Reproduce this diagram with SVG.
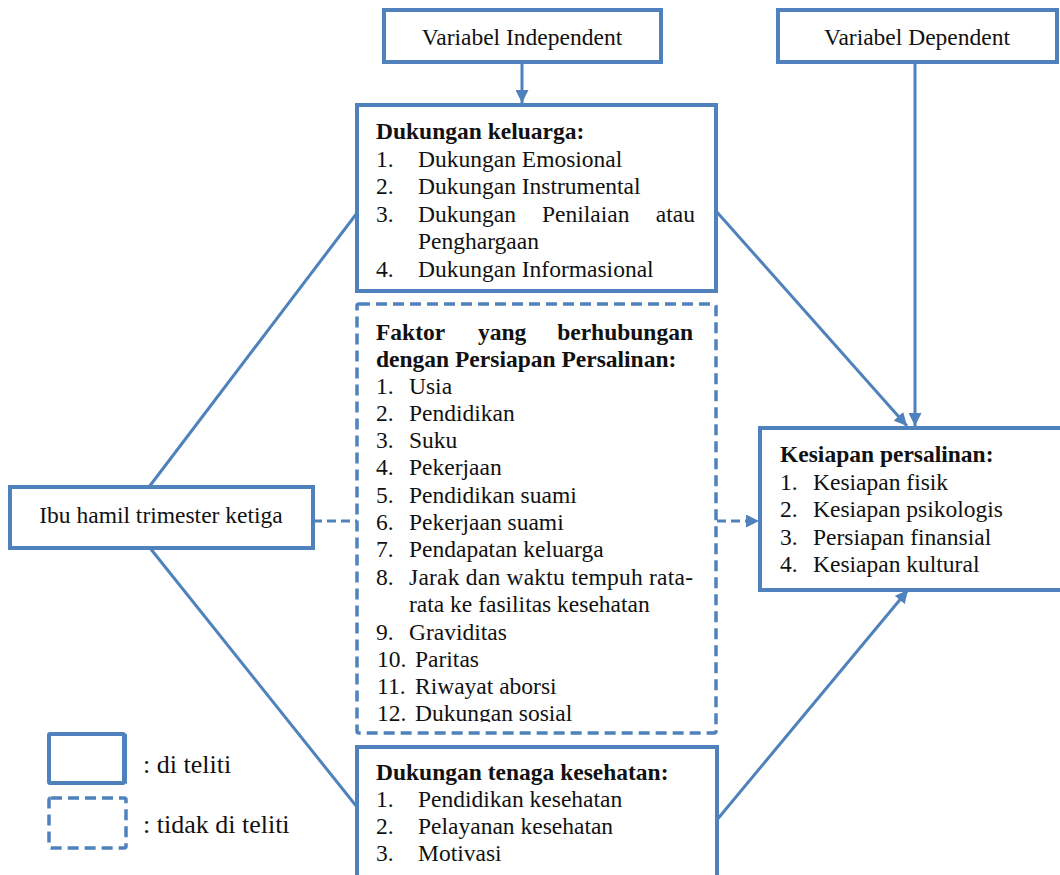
<svg xmlns="http://www.w3.org/2000/svg" width="1060" height="875" viewBox="0 0 1060 875" font-family="'Liberation Serif', 'DejaVu Serif', serif">
<style>
.box{fill:#fff;stroke:#4F81BD;stroke-width:4}
.dbox{fill:#fff;stroke:#4F81BD;stroke-width:3.5;stroke-dasharray:11 6}
.ln{fill:none;stroke:#4F81BD;stroke-width:3}
.dln{fill:none;stroke:#4F81BD;stroke-width:3;stroke-dasharray:9 5}
text{font-size:23.5px;fill:#111}
.b{font-weight:bold}
.c{text-anchor:middle}
.e{text-anchor:end}
.lg{font-size:26px}
</style>
<defs>
<marker id="arr" markerUnits="userSpaceOnUse" markerWidth="13" markerHeight="13" viewBox="0 0 10 10" refX="10" refY="5" orient="auto">
<path d="M0,0 L10,5 L0,10 z" fill="#4F81BD"/>
</marker>
<clipPath id="clipF"><rect x="357" y="306" width="358" height="416"/></clipPath>
</defs>

<g id="connectors">
<line class="ln" x1="522" y1="62" x2="522" y2="103" marker-end="url(#arr)"/>
<line class="ln" x1="915" y1="62" x2="915" y2="426" marker-end="url(#arr)"/>
<line class="ln" x1="149" y1="487" x2="357" y2="213"/>
<line class="ln" x1="150" y1="548" x2="357" y2="807"/>
<line class="ln" x1="716" y1="211" x2="907" y2="426" marker-end="url(#arr)"/>
<line class="ln" x1="716" y1="821" x2="908" y2="590" marker-end="url(#arr)"/>
<line class="dln" x1="313" y1="521" x2="357" y2="521"/>
<line class="dln" x1="717" y1="521" x2="759" y2="521" marker-end="url(#arr)"/>
</g>

<g id="var-independent">
<rect class="box" x="384" y="10" width="277" height="52"/>
<text class="c" x="522" y="45">Variabel Independent</text>
</g>

<g id="var-dependent">
<rect class="box" x="778" y="10" width="279" height="52"/>
<text class="c" x="917" y="45">Variabel Dependent</text>
</g>

<g id="dukungan-keluarga">
<rect class="box" x="357" y="105" width="359" height="186"/>
<text class="b" x="376" y="139">Dukungan keluarga:</text>
<text x="376" y="167">1.</text><text x="418" y="167">Dukungan Emosional</text>
<text x="376" y="194">2.</text><text x="418" y="194">Dukungan Instrumental</text>
<text x="376" y="222">3.</text><text x="418" y="222">Dukungan</text><text x="542" y="222">Penilaian</text><text class="e" x="695" y="222">atau</text>
<text x="418" y="249">Penghargaan</text>
<text x="376" y="277">4.</text><text x="418" y="277">Dukungan Informasional</text>
</g>

<g id="faktor">
<rect class="dbox" x="357" y="304" width="359" height="429" rx="2"/>
<g clip-path="url(#clipF)">
<text class="b" x="376" y="340">Faktor</text><text class="b" x="478" y="340">yang</text><text class="b e" x="693" y="340">berhubungan</text>
<text class="b" x="376" y="367">dengan Persiapan Persalinan:</text>
<text x="376" y="394">1.</text><text x="409" y="394">Usia</text>
<text x="376" y="421">2.</text><text x="409" y="421">Pendidikan</text>
<text x="376" y="448">3.</text><text x="409" y="448">Suku</text>
<text x="376" y="475">4.</text><text x="409" y="475">Pekerjaan</text>
<text x="376" y="503">5.</text><text x="409" y="503">Pendidikan suami</text>
<text x="376" y="530">6.</text><text x="409" y="530">Pekerjaan suami</text>
<text x="376" y="557">7.</text><text x="409" y="557">Pendapatan keluarga</text>
<text x="376" y="585">8.</text><text x="409" y="585" textLength="284" lengthAdjust="spacing">Jarak dan waktu tempuh rata-</text>
<text x="409" y="612">rata ke fasilitas kesehatan</text>
<text x="376" y="640">9.</text><text x="409" y="640">Graviditas</text>
<text x="377" y="667">10.</text><text x="415" y="667">Paritas</text>
<text x="377" y="694">11.</text><text x="415" y="694">Riwayat aborsi</text>
<text x="377" y="721">12.</text><text x="415" y="721">Dukungan sosial</text>
</g>
</g>

<g id="ibu-hamil">
<rect class="box" x="10" y="487" width="303" height="61"/>
<text class="c" x="161" y="523">Ibu hamil trimester ketiga</text>
</g>

<g id="kesiapan">
<rect class="box" x="760" y="428" width="306" height="162"/>
<text class="b" x="780" y="462">Kesiapan persalinan:</text>
<text x="780" y="490">1.</text><text x="813" y="490">Kesiapan fisik</text>
<text x="780" y="517">2.</text><text x="813" y="517">Kesiapan psikologis</text>
<text x="780" y="545">3.</text><text x="813" y="545">Persiapan finansial</text>
<text x="780" y="572">4.</text><text x="813" y="572">Kesiapan kultural</text>
</g>

<g id="tenaga-kesehatan">
<rect class="box" x="357" y="747" width="360" height="140"/>
<text class="b" x="376" y="780">Dukungan tenaga kesehatan:</text>
<text x="376" y="807">1.</text><text x="418" y="807">Pendidikan kesehatan</text>
<text x="376" y="834">2.</text><text x="418" y="834">Pelayanan kesehatan</text>
<text x="376" y="861">3.</text><text x="418" y="861">Motivasi</text>
</g>

<g id="legend">
<rect class="box" x="49" y="734" width="75" height="49" rx="1"/>
<line x1="126.5" y1="734" x2="126.5" y2="784" stroke="#4F81BD" stroke-width="1"/>
<text class="lg" x="143" y="773">: di teliti</text>
<rect class="dbox" x="49" y="798" width="77" height="50" rx="2"/>
<text class="lg" x="143" y="833">: tidak di teliti</text>
</g>
</svg>
